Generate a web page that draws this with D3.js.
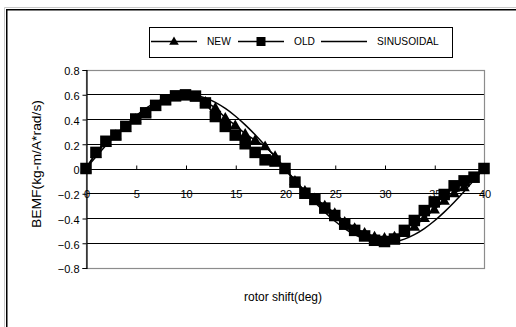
<!DOCTYPE html>
<html>
<head>
<meta charset="utf-8">
<script src="https://cdn.jsdelivr.net/npm/d3@7"></script>
<style>
  html, body { margin: 0; padding: 0; background: #fff; }
  svg { display: block; font-family: "Liberation Sans", Arial, sans-serif; }
</style>
</head>
<body>
<svg id="chart" width="516" height="327"></svg>
<script>
// rotor shift in degrees
const shiftDeg = d3.range(0, 41);

// back-EMF constant, kg-m/A*rad/s
const newBemf = [
  0, 0.12, 0.21, 0.27, 0.33, 0.40, 0.45, 0.50, 0.55, 0.58,
  0.59, 0.58, 0.54, 0.49, 0.41, 0.35, 0.28, 0.23, 0.18, 0.10,
  0, -0.10, -0.18, -0.24, -0.30, -0.36, -0.43, -0.48, -0.52, -0.55,
  -0.56, -0.55, -0.52, -0.47, -0.40, -0.33, -0.26, -0.20, -0.15, -0.08,
  0
];
const oldBemf = [
  0, 0.13, 0.22, 0.27, 0.34, 0.40, 0.45, 0.51, 0.555, 0.587,
  0.595, 0.585, 0.53, 0.42, 0.34, 0.27, 0.20, 0.13, 0.07, 0.06,
  0, -0.11, -0.20, -0.25, -0.32, -0.38, -0.45, -0.50, -0.545, -0.58,
  -0.59, -0.57, -0.50, -0.42, -0.34, -0.27, -0.21, -0.14, -0.10, -0.07,
  0
];
const sinBemf = [
  0, 0.0939, 0.1854, 0.2724, 0.3527, 0.4243, 0.4854, 0.5346, 0.5706, 0.5926,
  0.6, 0.5926, 0.5706, 0.5346, 0.4854, 0.4243, 0.3527, 0.2724, 0.1854, 0.0939,
  0, -0.0939, -0.1854, -0.2724, -0.3527, -0.4243, -0.4854, -0.5346, -0.5706, -0.5926,
  -0.6, -0.5926, -0.5706, -0.5346, -0.4854, -0.4243, -0.3527, -0.2724, -0.1854, -0.0939,
  0
];

const xTicks = [0, 5, 10, 15, 20, 25, 30, 35, 40];
const yTicks = [-0.8, -0.6, -0.4, -0.2, 0, 0.2, 0.4, 0.6, 0.8];
const seriesNames = ["NEW", "OLD", "SINUSOIDAL"];

const svg = d3.select("#chart");

// chart frame
svg.append("path").attr("d", "M4.5,330 V7.5 H520").attr("fill", "none").attr("stroke", "#c8c8c8").attr("stroke-width", 1);
svg.append("path").attr("d", "M6.75,330 V9.75 H520").attr("fill", "none").attr("stroke", "#000").attr("stroke-width", 1.5);

const x = d3.scaleLinear().domain([0, 40]).range([86, 484]);
const y = d3.scaleLinear().domain([-0.8, 0.8]).range([267.5, 69.5]);

const plot = svg.append("g");

// horizontal gridlines
plot.selectAll("line.grid").data(yTicks.filter(v => Math.abs(v) < 0.8 && v !== 0))
  .join("line").attr("class", "grid")
  .attr("x1", x(0)).attr("x2", x(40))
  .attr("y1", d => Math.round(y(d)) + 0.5).attr("y2", d => Math.round(y(d)) + 0.5)
  .attr("stroke", "#000").attr("stroke-width", 1);

// plot area border
plot.append("rect")
  .attr("x", x(0) + 0.5).attr("y", Math.round(y(0.8)) + 0.5)
  .attr("width", x(40) - x(0)).attr("height", Math.round(y(-0.8)) - Math.round(y(0.8)))
  .attr("fill", "none").attr("stroke", "#8c8c8c").attr("stroke-width", 1.2);

// y axis
const yAxis = d3.axisLeft(y).tickValues(yTicks).tickSize(4).tickPadding(3)
  .tickFormat(d => d === 0 ? "0" : d3.format(".1f")(d));
const gy = svg.append("g").attr("transform", `translate(${x(0) + 0.5},0.5)`).call(yAxis);
gy.select(".domain").attr("stroke", "#000").attr("stroke-width", 1.2);
gy.selectAll(".tick line").attr("stroke", "#000");
gy.selectAll(".tick text").attr("font-size", 11).attr("fill", "#000")
  .attr("font-family", "'Liberation Sans', Arial, sans-serif").attr("dy", "0.45em");

// x axis sits on the zero line, ticks point up, labels below the line
const xAxis = d3.axisBottom(x).tickValues(xTicks).tickSize(-4).tickPadding(0).tickFormat(d3.format("d"));
const gx = svg.append("g").attr("transform", `translate(0.5,${Math.round(y(0)) + 0.5})`).call(xAxis);
gx.select(".domain").attr("stroke", "#000").attr("stroke-width", 1.2).attr("d", `M${x(0)},0H${x(40)}`);
gx.selectAll(".tick line").attr("stroke", "#000");
gx.selectAll(".tick text").attr("font-size", 11).attr("fill", "#000")
  .attr("font-family", "'Liberation Sans', Arial, sans-serif")
  .attr("y", 28).attr("dy", "0");

const pts = arr => shiftDeg.map((d, i) => [d, arr[i]]);
const line = d3.line().x(d => x(d[0])).y(d => y(d[1]));

const tri = d3.symbol().type(d3.symbolTriangle).size(56);
const sq = 11.5;

// NEW
plot.append("path").attr("d", line(pts(newBemf))).attr("fill", "none").attr("stroke", "#000").attr("stroke-width", 1.5);
plot.selectAll("path.tri").data(pts(newBemf)).join("path").attr("class", "tri")
  .attr("d", tri).attr("transform", d => `translate(${x(d[0])},${y(d[1]) + 0.8})`).attr("fill", "#000");

// OLD
plot.append("path").attr("d", line(pts(oldBemf))).attr("fill", "none").attr("stroke", "#000").attr("stroke-width", 1.5);
plot.selectAll("rect.sq").data(pts(oldBemf)).join("rect").attr("class", "sq")
  .attr("x", d => x(d[0]) - sq / 2).attr("y", d => y(d[1]) - sq / 2)
  .attr("width", sq).attr("height", sq).attr("fill", "#000");

// SINUSOIDAL
plot.append("path").attr("d", d3.line().x(d => x(d[0])).y(d => y(d[1])).curve(d3.curveCatmullRom)(pts(sinBemf)))
  .attr("fill", "none").attr("stroke", "#000").attr("stroke-width", 1.5);

// axis titles
svg.append("text").attr("x", 283).attr("y", 301).attr("text-anchor", "middle")
  .attr("font-size", 12).attr("fill", "#000").text("rotor shift(deg)");
svg.append("text").attr("transform", "translate(41,164) rotate(-90)").attr("text-anchor", "middle")
  .attr("font-size", 12).attr("fill", "#000")
  .attr("textLength", 128).attr("lengthAdjust", "spacingAndGlyphs")
  .text("BEMF(kg-m/A*rad/s)");

// legend
const lg = svg.append("g");
lg.append("rect").attr("x", 149.5).attr("y", 27.5).attr("width", 303).attr("height", 30)
  .attr("fill", "#fff").attr("stroke", "#000").attr("stroke-width", 1);
const legendItems = [
  { name: seriesNames[0], x0: 151, x1: 197, mark: "tri" },
  { name: seriesNames[1], x0: 238, x1: 284, mark: "sq" },
  { name: seriesNames[2], x0: 321, x1: 367, mark: null }
];
const ly = 41.5;
legendItems.forEach(it => {
  lg.append("line").attr("x1", it.x0).attr("x2", it.x1).attr("y1", ly).attr("y2", ly)
    .attr("stroke", "#000").attr("stroke-width", 1.5);
  const cx = (it.x0 + it.x1) / 2;
  if (it.mark === "tri") {
    lg.append("path").attr("d", d3.symbol().type(d3.symbolTriangle).size(40)())
      .attr("transform", `translate(${cx},${ly + 0.5})`).attr("fill", "#000");
  } else if (it.mark === "sq") {
    lg.append("rect").attr("x", cx - 4.5).attr("y", ly - 4.5).attr("width", 9).attr("height", 9).attr("fill", "#000");
  }
  lg.append("text").attr("x", it.x1 + 10).attr("y", ly + 3.8).attr("font-size", 10.2).attr("fill", "#000").text(it.name);
});
</script>
</body>
</html>
